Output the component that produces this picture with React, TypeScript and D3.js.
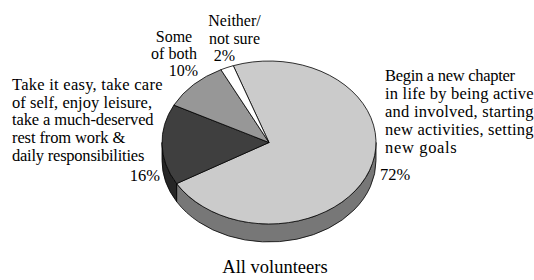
import React from "react";
import * as d3 from "d3";

// ---- Data ----
const categories = [
  "Begin a new chapter in life by being active and involved, starting new activities, setting new goals",
  "Take it easy, take care of self, enjoy leisure, take a much-deserved rest from work & daily responsibilities",
  "Some of both",
  "Neither/not sure",
];
const values = [72, 16, 10, 2];
const valueLabels = ["72%", "16%", "10%", "2%"];
const labelLines = [
  ["Begin a new chapter", "in life by being active", "and involved, starting", "new activities, setting", "new goals"],
  ["Take it easy, take care", "of self, enjoy leisure,", "take a much-deserved", "rest from work &", "daily responsibilities"],
  ["Some", "of both"],
  ["Neither/", "not sure"],
];
const title = "All volunteers";

// ---- Styles / layout ----
const topColors = ["#cbcbcb", "#3f3f3f", "#979797", "#ffffff"];
const sideColors = ["#777777", "#262626", "#5f5f5f", "#bdbdbd"];

const W = 534, H = 280;
const cx = 269, cy = 142.5, rx = 107, ry = 81.5, depth = 18;
const startDeg = -19.5;
const FONT = '"Liberation Serif", "Times New Roman", Times, "DejaVu Serif", serif';

// label layout: [x, firstBaseline, lineHeight, anchor, fontSize]
const labelLayout: [number, number, number, string, number][] = [
  [385, 80.7, 18.1, "start", 16.5],
  [12, 90, 17.7, "start", 16.5],
  [174, 41.7, 16.8, "middle", 16],
  [234.5, 26, 18.2, "middle", 16],
];
// measured line widths (px) of the wrapped label lines
const lineWidths: (number | null)[][] = [
  [130, 148.5, 148.5, 148.5, 71.7],
  [150.5, 140, 141.6, 113.3, 132.3],
  [null, null],
  [null, null],
];
const valueLayout: [number, number, string][] = [
  [380, 179.5, "start"],
  [160, 180.7, "end"],
  [198, 75.5, "end"],
  [235, 61, "end"],
];

export default function App() {
  const a0 = (startDeg * Math.PI) / 180;
  const pie = d3.pie<number>().sort(null).startAngle(a0).endAngle(a0 + 2 * Math.PI);
  const arcs = pie(values);
  const arcGen = d3.arc<d3.PieArcDatum<number>>().innerRadius(0).outerRadius(rx);

  const pt = (a: number, dy = 0): [number, number] => [cx + rx * Math.sin(a), cy - ry * Math.cos(a) + dy];

  const sides: { d: string; i: number }[] = [];
  arcs.forEach((arc, i) => {
    for (const shift of [0, 2 * Math.PI, -2 * Math.PI]) {
      const s = Math.max(arc.startAngle + shift, Math.PI / 2);
      const e = Math.min(arc.endAngle + shift, (3 * Math.PI) / 2);
      if (e > s + 1e-6) {
        const p0 = pt(s), p1 = pt(e), q1 = pt(e, depth), q0 = pt(s, depth);
        const d = `M${p0[0]},${p0[1]} A${rx},${ry} 0 0 1 ${p1[0]},${p1[1]} L${q1[0]},${q1[1]} A${rx},${ry} 0 0 0 ${q0[0]},${q0[1]} Z`;
        sides.push({ d, i });
      }
    }
  });

  return (
    <svg width={W} height={H} style={{ position: "absolute", left: 0, top: 0, background: "#fff" }}>
      <rect x={0} y={0} width={W} height={H} fill="#fff" />
      {sides.map((s, k) => (
        <path key={"s" + k} d={s.d} fill={sideColors[s.i]} stroke="#000" strokeWidth={0.8} strokeLinejoin="round" />
      ))}
      <g transform={`translate(${cx},${cy}) scale(1,${ry / rx})`}>
        {arcs.map((a, i) => (
          <path
            key={"t" + i}
            d={arcGen(a) || ""}
            fill={topColors[i]}
            stroke="#000"
            strokeWidth={0.8}
            strokeLinejoin="round"
            vectorEffect="non-scaling-stroke"
          >
            <title>{categories[i]}</title>
          </path>
        ))}
      </g>
      <g fill="#000">
        {labelLines.map((lines, i) =>
          lines.map((line, j) => {
            const tl = lineWidths[i][j];
            const extra: any = tl ? { textLength: tl, lengthAdjust: "spacing" } : {};
            return (
              <text
                key={`l${i}-${j}`}
                x={labelLayout[i][0]}
                y={labelLayout[i][1] + j * labelLayout[i][2]}
                textAnchor={labelLayout[i][3] as any}
                style={{ fontFamily: FONT, fontSize: labelLayout[i][4] }}
                {...extra}
              >
                {line}
              </text>
            );
          })
        )}
        {valueLabels.map((v, i) => (
          <text
            key={"v" + i}
            x={valueLayout[i][0]}
            y={valueLayout[i][1]}
            textAnchor={valueLayout[i][2] as any}
            style={{ fontFamily: FONT, fontSize: i < 2 ? 16.5 : 16 }}
          >
            {v}
          </text>
        ))}
      </g>
      <text x={275} y={273} textAnchor="middle" style={{ fontFamily: FONT, fontSize: 18.5 }} fill="#000">
        {title}
      </text>
    </svg>
  );
}
